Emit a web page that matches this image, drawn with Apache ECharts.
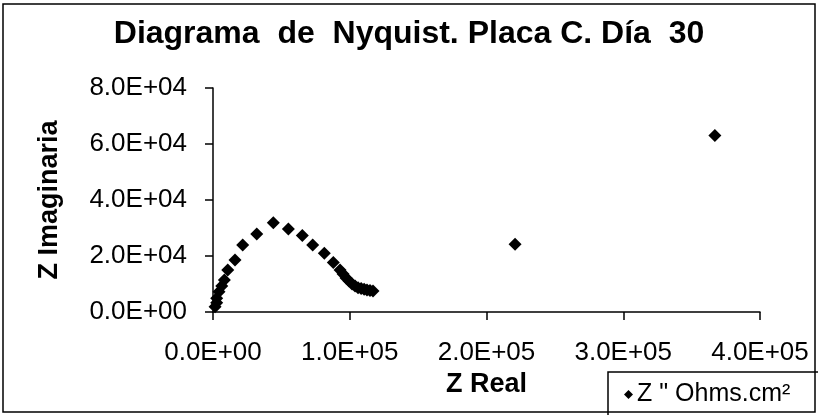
<!DOCTYPE html>
<html>
<head>
<meta charset="utf-8">
<script src="https://cdn.jsdelivr.net/npm/echarts@6/dist/echarts.min.js"></script>
<style>
  html, body { margin: 0; padding: 0; background: #fff; }
  #chart { width: 818px; height: 415px; }
</style>
</head>
<body>
<div id="chart"></div>
<script>
// Impedance spectrum, plate C, day 30 (Z real vs Z imaginary, Ohms.cm²)
const zReal = [
  1500, 2700, 2700, 4400, 6400, 8300, 10800, 16100, 21700, 32000,
  44100, 55100, 65300, 72900, 81400, 88000, 92900, 95100, 97300, 99500,
  101700, 103900, 106100, 108300, 110500, 112600, 114800, 117000,
  220900, 367000
];
const zImag = [
  1900, 3300, 4900, 7200, 9300, 11400, 15000, 18600, 23900, 27900,
  31900, 29600, 27300, 23900, 21000, 17700, 15000, 13600, 12100, 11100,
  10000, 9300, 8700, 8400, 8100, 7900, 7700, 7500,
  24200, 63000
];
const xTicks = [0, 100000, 200000, 300000, 400000];
const yTicks = [0, 20000, 40000, 60000, 80000];
const seriesName = 'Z " Ohms.cm²';

function sci(v) {
  if (v === 0) return '0.0E+00';
  const e = Math.floor(Math.log10(Math.abs(v)) + 1e-9);
  const m = v / Math.pow(10, e);
  return m.toFixed(1) + 'E+' + String(e).padStart(2, '0');
}

const font = 'Liberation Sans, Arial, sans-serif';
const points = zReal.map((x, i) => [x, zImag[i]]);

const chart = echarts.init(document.getElementById('chart'), null, { renderer: 'canvas' });
chart.setOption({
  backgroundColor: '#ffffff',
  animation: false,
  title: {
    text: 'Diagrama  de  Nyquist. Placa C. Día  30',
    left: 'center',
    top: 18,
    padding: 0,
    textStyle: { fontFamily: font, fontSize: 32, fontWeight: 'bold', color: '#000' }
  },
  legend: {
    data: [seriesName],
    left: 608,
    top: 372,
    padding: [10, 40, 20, 16],
    itemGap: 0,
    itemWidth: 9,
    itemHeight: 9,
    icon: 'diamond',
    borderColor: '#000',
    borderWidth: 1.5,
    borderRadius: 0,
    textStyle: { fontFamily: font, fontSize: 25, color: '#000', padding: [0, 0, 0, -1] }
  },
  grid: { left: 213, right: 58, top: 88, bottom: 103 },
  xAxis: {
    type: 'value',
    min: xTicks[0],
    max: xTicks[xTicks.length - 1],
    interval: xTicks[1] - xTicks[0],
    name: 'Z Real',
    nameLocation: 'middle',
    nameGap: 58,
    nameTextStyle: { fontFamily: font, fontSize: 27, fontWeight: 'bold', color: '#000', verticalAlign: 'top' },
    axisLine: { show: true, onZero: false, lineStyle: { color: '#000', width: 1.5 } },
    axisTick: { show: true, inside: false, length: 8, lineStyle: { color: '#000', width: 1.5 } },
    axisLabel: { margin: 28, fontFamily: font, fontSize: 26, color: '#000', formatter: sci },
    splitLine: { show: false }
  },
  yAxis: {
    type: 'value',
    min: yTicks[0],
    max: yTicks[yTicks.length - 1],
    interval: yTicks[1] - yTicks[0],
    name: 'Z Imaginaria',
    nameLocation: 'middle',
    nameGap: 150,
    nameTextStyle: { fontFamily: font, fontSize: 27, fontWeight: 'bold', color: '#000' },
    axisLine: { show: true, onZero: false, lineStyle: { color: '#000', width: 1.5 } },
    axisTick: { show: true, inside: false, length: 8, lineStyle: { color: '#000', width: 1.5 } },
    axisLabel: { margin: 26, fontFamily: font, fontSize: 26, color: '#000', formatter: sci },
    splitLine: { show: false }
  },
  series: [{
    name: seriesName,
    type: 'scatter',
    symbol: 'diamond',
    symbolSize: 13,
    itemStyle: { color: '#000', opacity: 1 },
    data: points
  }],
  graphic: [{
    type: 'rect',
    shape: { x: 3, y: 4, width: 812, height: 408 },
    style: { fill: 'none', stroke: '#000', lineWidth: 1.5 },
    silent: true,
    z: -1
  }]
});
</script>
</body>
</html>
